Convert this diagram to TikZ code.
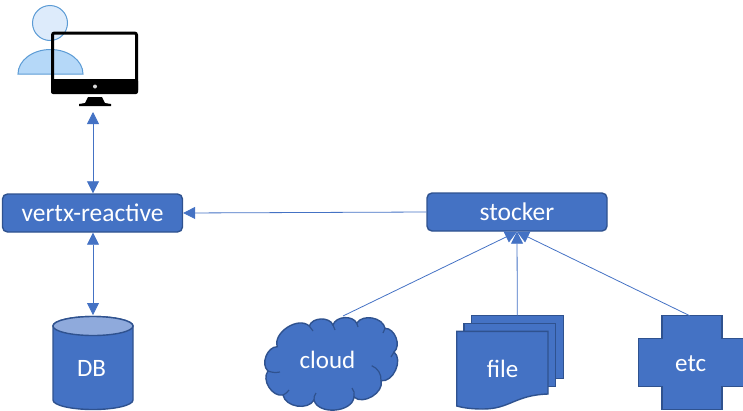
\documentclass[tikz,border=0pt]{standalone}
\usepackage{fontspec}
\setmainfont{Carlito}
\usetikzlibrary{arrows.meta}
\definecolor{BoxBlue}{HTML}{4472C4}
\definecolor{BoxEdge}{HTML}{2F528F}
\definecolor{DbTop}{HTML}{8FAADC}
\definecolor{UserEdge}{HTML}{5B9BD5}
\definecolor{UserHead}{HTML}{DDEBFB}
\definecolor{UserBody}{HTML}{B5D8F8}
\begin{document}
\begin{tikzpicture}[
      x=1pt,y=-1pt,
      service/.style={rectangle,rounded corners=5pt,draw=BoxEdge,line width=1.4pt,fill=BoxBlue,
        minimum width=180pt,minimum height=38pt,text=white,font=\fontsize{25.5}{30}\selectfont},
      shapefill/.style={draw=BoxEdge,line width=1.4pt,fill=BoxBlue},
      caption/.style={text=white,inner sep=0pt,font=\fontsize{25}{30}\selectfont},
      puffline/.style={draw=BoxEdge,line width=1.2pt},
      user/.style={draw=UserEdge,line width=1pt},
      biedge/.style={{Triangle[length=12pt,width=12pt]}-{Triangle[length=12pt,width=12pt]},line width=0.8pt,color=BoxBlue},
      edge/.style={-{Triangle[length=12pt,width=12pt]},line width=0.8pt,color=BoxBlue}
    ]
      \useasboundingbox (0,0) rectangle (743,410);
      % user and screen
      \draw[user,fill=UserHead] (50,23) circle[radius=17.5];
      \draw[user,fill=UserBody] (18,74) arc[start angle=180,end angle=360,x radius=32.5,y radius=24.5] -- cycle;
      \draw[black,line width=3pt,rounded corners=2pt] (52.5,33) rectangle (136.5,92);
      \fill[black,rounded corners=2pt] (51,79) rectangle (138,94);
      \fill[white!85!black] (95,86.5) circle[radius=2];
      \fill[black] (88,97) -- (102,97) -- (105,103) -- (111,104) -- (111,106) -- (79,106) -- (79,104) -- (85,103) -- cycle;
      \coordinate (screen) at (93,112);
      % boxes
      \node[service] (vertx) at (92.5,213) {vertx-reactive};
      \node[service] (stocker) at (517,212) {stocker};
      % database
      \draw[shapefill] (53,326) -- (53,400) arc[start angle=180,end angle=0,x radius=40,y radius=9.5]
        -- (133,326) arc[start angle=0,end angle=-180,x radius=40,y radius=9.5] -- cycle;
      \draw[shapefill,fill=DbTop] (93,326) ellipse[x radius=40,y radius=9.5];
      \node[caption] (db) at (91.5,368) {DB};
      \coordinate (dbtop) at (93,315);
      % cloud
      \path[shapefill] (277.3,346.7) to[bend left=75] (309.3,326) to[bend left=70] (333,325)
        to[bend left=70] (356.7,323.3) to[bend left=70] (385,328.3) to[bend left=70] (394,352)
        to[bend left=75] (381,380.7) to[bend left=75] (354,397) to[bend left=80] (314,400)
        to[bend left=70] (283,395) to[bend left=70] (268,371) to[bend left=70] cycle;
      \draw[puffline] (268,371) to[bend right=15] (280,372);
      \draw[puffline] (309.3,326) to[bend left=15] (313,331);
      \draw[puffline] (333,325) to[bend right=15] (335,330);
      \draw[puffline] (356.7,323.3) to[bend right=15] (358,327);
      \draw[puffline] (385,328.3) to[bend right=15] (383,333);
      \draw[puffline] (394,352) to[bend right=15] (391,357);
      \draw[puffline] (371.7,365.7) to[bend left=35] (381,380.7);
      \draw[puffline] (354,397) to[bend right=25] (352,388);
      \draw[puffline] (314,400) to[bend left=20] (316,393);
      \draw[puffline] (283,395) to[bend right=15] (289,390);
      \node[caption] (cloud) at (327.5,360) {cloud};
      \coordinate (cloudtop) at (343,316);
      % file
      \draw[shapefill] (471.3,315.5) rectangle (563.3,378.7);
      \draw[shapefill] (464,323.3) rectangle (555.3,386.7);
      \draw[shapefill] (456.7,331.3) -- (548,331.3) -- (548,394)
        .. controls (515,395) and (510,409) .. (483,409) .. controls (472,409) and (464,408) .. (456.7,406) -- cycle;
      \node[caption] (file) at (502.5,369) {file};
      \coordinate (filetop) at (517.3,315.5);
      % plus
      \draw[shapefill] (662,315.7) -- (722,315.7) -- (722,338.7) -- (745,338.7) -- (745,386.7) -- (722,386.7)
        -- (722,409.3) -- (662,409.3) -- (662,386.7) -- (638.7,386.7) -- (638.7,338.7) -- (662,338.7) -- cycle;
      \node[caption] (etc) at (690.7,363.5) {etc};
      \coordinate (etctop) at (689.7,315.7);
      % connectors
      \draw[biedge] (screen) -- (vertx.north -| screen);
      \draw[biedge] (vertx.south -| screen) -- (dbtop);
      \draw[edge] (stocker.west) -- (vertx.east);
      \draw[edge] (cloudtop) -- (stocker.south);
      \draw[edge] (filetop) -- (stocker.south);
      \draw[edge] (etctop) -- (stocker.south);
    \end{tikzpicture}
\end{document}
